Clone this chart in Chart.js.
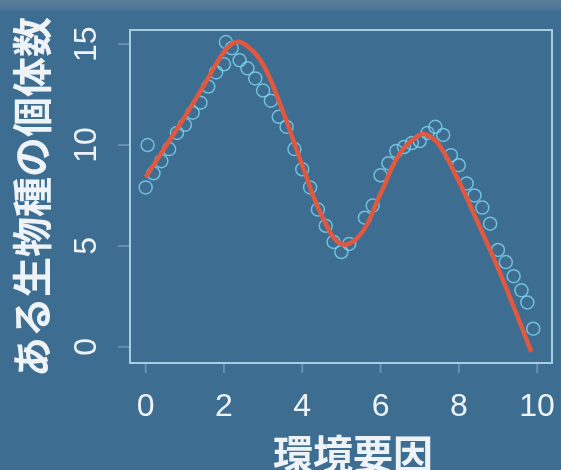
<!DOCTYPE html>
<html>
<head>
<meta charset="utf-8">
<script src="https://cdn.jsdelivr.net/npm/chart.js@4/dist/chart.umd.min.js"></script>
<style>
  html, body { margin: 0; padding: 0; }
  body { width: 561px; height: 470px; overflow: hidden;
         background: linear-gradient(#5b7f9a 0px, #4a7698 9px, #3e6d92 12px, #3e6d92 100%); }
  canvas { display: block; }
</style>
</head>
<body>
<canvas id="chart" width="561" height="470"></canvas>
<script>
// fitted curve (red)
const curveX = [0, 0.5, 1, 1.5, 2, 2.3, 2.6, 3, 3.5, 4, 4.5, 5, 5.5, 6, 6.5, 7, 7.2, 7.5, 8, 8.5, 9, 9.5, 9.85];
const curveY = [8.4, 9.9, 11.4, 13.0, 14.6, 15.1, 14.9, 14.0, 11.7, 9.0, 6.5, 5.1, 5.6, 7.6, 9.6, 10.5, 10.5, 10.0, 8.2, 6.1, 3.9, 1.5, -0.25];

// observed points (circles)
const obsX = [0.0, 0.05, 0.2, 0.4, 0.6, 0.8, 1.0, 1.2, 1.4, 1.6, 1.8, 2.0, 2.05, 2.2, 2.4, 2.6, 2.8, 3.0,
              3.2, 3.4, 3.6, 3.8, 4.0, 4.2, 4.4, 4.6, 4.8, 5.0, 5.2, 5.6, 5.8, 6.0, 6.2, 6.4, 6.6, 6.8,
              7.0, 7.2, 7.4, 7.6, 7.8, 8.0, 8.2, 8.4, 8.6, 8.8, 9.0, 9.2, 9.4, 9.6, 9.75, 9.9];
const obsY = [7.9, 10.0, 8.6, 9.2, 9.8, 10.6, 11.0, 11.6, 12.1, 12.9, 13.6, 14.0, 15.1, 14.8, 14.2, 13.8, 13.3, 12.7,
              12.2, 11.4, 10.9, 9.8, 8.8, 7.9, 6.8, 6.0, 5.2, 4.7, 5.1, 6.4, 7.0, 8.5, 9.1, 9.7, 9.9, 10.1,
              10.2, 10.6, 10.9, 10.5, 9.5, 9.0, 8.1, 7.5, 6.9, 6.1, 4.8, 4.2, 3.5, 2.8, 2.2, 0.9];

const xTicks = [0, 2, 4, 6, 8, 10];
const yTicks = [0, 5, 10, 15];
const xTitle = '環境要因';
const yTitle = 'ある生物種の個体数';

const frame = {
  id: 'frame',
  beforeDatasetsDraw(chart) {
    const { ctx, chartArea: a } = chart;
    ctx.save();
    ctx.strokeStyle = 'rgba(185,222,238,0.85)';
    ctx.lineWidth = 2;
    ctx.strokeRect(a.left, a.top, a.right - a.left, a.bottom - a.top);
    ctx.restore();
  },
  afterDraw(chart) {
    const { ctx, chartArea: a, scales: { x, y } } = chart;
    ctx.save();
    ctx.strokeStyle = 'rgba(200,225,240,0.3)';
    ctx.lineWidth = 2;
    xTicks.forEach(v => {
      const px = x.getPixelForValue(v);
      ctx.beginPath(); ctx.moveTo(px, a.bottom + 1); ctx.lineTo(px, a.bottom + 10); ctx.stroke();
    });
    yTicks.forEach(v => {
      const py = y.getPixelForValue(v);
      ctx.beginPath(); ctx.moveTo(a.left - 1, py); ctx.lineTo(a.left - 12, py); ctx.stroke();
    });

    ctx.fillStyle = '#eef3f7';
    ctx.textAlign = 'center';
    ctx.textBaseline = 'middle';
    ctx.font = '32px "Liberation Sans"';
    xTicks.forEach(v => ctx.fillText(String(v), x.getPixelForValue(v), 407));
    yTicks.forEach(v => {
      ctx.save();
      ctx.translate(87, y.getPixelForValue(v));
      ctx.rotate(-Math.PI / 2);
      ctx.fillText(String(v), 0, 0);
      ctx.restore();
    });

    ctx.font = 'bold 40px "Noto Sans CJK JP"';
    ctx.fillText(xTitle, 353, 454);
    ctx.save();
    ctx.translate(32, 197);
    ctx.rotate(-Math.PI / 2);
    ctx.fillText(yTitle, 0, 0);
    ctx.restore();
    ctx.restore();
  }
};

new Chart(document.getElementById('chart').getContext('2d'), {
  type: 'scatter',
  data: {
    datasets: [
      {
        label: 'fit',
        data: curveX.map((v, i) => ({ x: v, y: curveY[i] })),
        showLine: true,
        borderColor: '#e0583d',
        borderWidth: 4.5,
        pointRadius: 0,
        tension: 0.4
      },
      {
        label: 'obs',
        data: obsX.map((v, i) => ({ x: v, y: obsY[i] })),
        showLine: false,
        pointRadius: 6.5,
        pointBorderWidth: 1.5,
        pointBorderColor: 'rgba(125,212,238,0.8)',
        pointBackgroundColor: 'rgba(0,0,0,0)'
      }
    ]
  },
  options: {
    responsive: false,
    animation: false,
    layout: { padding: { left: 130, right: 9, top: 30, bottom: 107 } },
    plugins: { legend: { display: false }, tooltip: { enabled: false } },
    scales: {
      x: { type: 'linear', display: false, min: -0.4, max: 10.38 },
      y: { type: 'linear', display: false, min: -0.8, max: 15.7 }
    }
  },
  plugins: [frame]
});
</script>
</body>
</html>
